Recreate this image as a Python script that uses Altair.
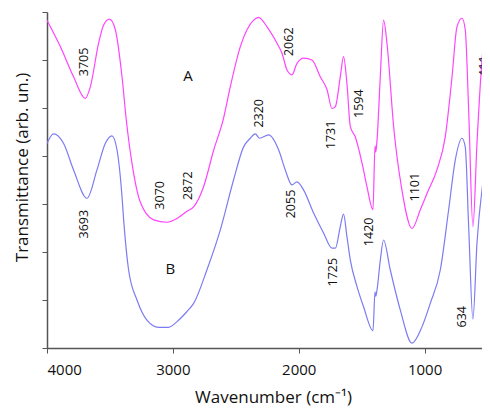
import altair as alt
import pandas as pd

# Curve A (magenta)
wn_a = [4000, 3894, 3789, 3696, 3656, 3590, 3550, 3503, 3457, 3404, 3370, 3325, 3259, 3153,
        3047, 2967, 2888, 2835, 2756, 2676, 2597, 2544, 2464, 2411, 2359, 2319, 2252, 2173,
        2133, 2093, 2054, 2014, 1961, 1895, 1829, 1775, 1736, 1709, 1670, 1644, 1617, 1590,
        1551, 1497, 1458, 1410, 1394, 1388, 1378, 1352, 1326, 1299, 1246, 1180, 1100, 1034,
        981, 902, 836, 782, 743, 703, 677, 650, 616, 584, 544, 504, 438]
t_a = [6.83, 6.28, 5.65, 5.20, 5.44, 6.35, 6.73, 6.85, 6.63, 5.65, 4.75, 3.85, 3.04, 2.67,
       2.62, 2.70, 2.85, 2.94, 3.36, 4.12, 4.79, 5.44, 6.28, 6.63, 6.83, 6.89, 6.69, 6.35,
       6.14, 5.79, 5.69, 5.93, 6.04, 6.00, 5.65, 5.38, 4.99, 5.03, 5.65, 6.07, 5.51, 4.61,
       4.40, 3.85, 3.36, 2.88, 4.21, 4.08, 4.33, 5.65, 6.83, 6.35, 4.61, 3.29, 2.49, 2.88,
       3.22, 3.71, 4.40, 5.65, 6.69, 6.87, 6.63, 4.96, 2.53, 4.26, 6.00, 6.83, 7.04]

# Curve B (blue)
wn_b = [4000, 3948, 3868, 3789, 3682, 3603, 3537, 3484, 3444, 3404, 3391, 3352, 3285, 3206,
        3113, 3034, 2967, 2888, 2835, 2729, 2623, 2518, 2438, 2385, 2345, 2311, 2239, 2160,
        2107, 2054, 2014, 1961, 1882, 1802, 1736, 1709, 1670, 1644, 1617, 1590, 1537, 1485,
        1410, 1394, 1388, 1378, 1352, 1326, 1273, 1193, 1100, 1021, 955, 875, 809, 756,
        703, 677, 650, 616, 584, 531, 478, 422]
t_b = [4.26, 4.46, 4.26, 3.71, 3.12, 3.71, 4.26, 4.42, 4.13, 3.15, 2.67, 1.63, 1.00, 0.58,
       0.43, 0.43, 0.55, 0.76, 0.93, 1.63, 2.46, 3.50, 4.19, 4.37, 4.46, 4.37, 4.44, 4.13,
       3.71, 3.40, 3.46, 3.29, 2.81, 2.39, 2.08, 2.08, 2.53, 2.79, 2.32, 1.83, 1.28, 0.86,
       0.36, 1.17, 1.08, 1.21, 1.83, 2.25, 1.63, 0.79, 0.10, 0.44, 0.93, 1.63, 2.88, 3.92,
       4.37, 4.19, 2.53, 0.60, 2.18, 3.57, 4.40, 4.75]

# Peak annotations (rotated)
peak_text = ["3705", "3070", "2872", "2062", "1731", "1594", "1101", "411",
             "2320", "3693", "2055", "1725", "1420", "634"]
peak_wn = [3706, 3100, 2880, 2080, 1744, 1521, 1073, 530,
           2319, 3706, 2061, 1731, 1439, 706]
peak_t = [5.96, 3.18, 3.38, 6.38, 4.44, 5.09, 3.35, 5.87,
          4.89, 2.58, 3.00, 1.58, 2.42, 0.65]

# Curve names
curve_text = ["A", "B"]
curve_wn = [2880, 3020]
curve_t = [5.67, 1.64]

x_ticks = [4000, 3000, 2000, 1000]
y_ticks = [0, 1, 2, 3, 4, 5, 6, 7]

FONT = "Open Sans"

df_lines = pd.concat([
    pd.DataFrame({"wn": wn_a, "t": t_a, "s": "A"}),
    pd.DataFrame({"wn": wn_b, "t": t_b, "s": "B"}),
])
df_peaks = pd.DataFrame({"wn": peak_wn, "t": peak_t, "label": peak_text})
df_curves = pd.DataFrame({"wn": curve_wn, "t": curve_t, "label": curve_text})

x_scale = alt.Scale(domain=[4000, 544], nice=False, zero=False)
y_scale = alt.Scale(domain=[0, 7], nice=False, zero=False)

x_enc = alt.X("wn:Q", scale=x_scale,
              axis=alt.Axis(values=x_ticks, format="d", title="Wavenumber (cm⁻¹)", grid=False,
                            tickSize=5, labelPadding=9, labelFontSize=15,
                            labelFont=FONT, titleFont=FONT, titleFontSize=17,
                            titleFontWeight="normal", titleX=226, titleY=54,
                            titleBaseline="alphabetic", titleAlign="center",
                            domainColor="#555555", tickColor="#555555",
                            domainWidth=1.5, labelColor="#111111", titleColor="#111111"))
y_enc = alt.Y("t:Q", scale=y_scale,
              axis=alt.Axis(values=y_ticks, labels=False, title="Transmittance (arb. un.)",
                            grid=False, tickSize=5, titleFont=FONT, titleFontSize=17,
                            titleFontWeight="normal", titleX=-25, titleY=155,
                            titleAngle=270, titleBaseline="middle", titleAlign="center",
                            domainColor="#555555", tickColor="#555555",
                            domainWidth=1.5, titleColor="#111111"))

lines = alt.Chart(df_lines).mark_line(strokeWidth=1.2, clip=True, interpolate="monotone").encode(
    x=x_enc, y=y_enc,
    color=alt.Color("s:N", scale=alt.Scale(domain=["A", "B"], range=["#FF44FF", "#7C7CF2"]),
                    legend=None),
)

peaks = alt.Chart(df_peaks).mark_text(angle=270, font=FONT, fontSize=12.5, color="#111111",
                                       align="center", baseline="middle").encode(
    x=alt.X("wn:Q", scale=x_scale), y=alt.Y("t:Q", scale=y_scale), text="label:N")

curves = alt.Chart(df_curves).mark_text(font=FONT, fontSize=15, color="#111111",
                                         align="center", baseline="middle").encode(
    x=alt.X("wn:Q", scale=x_scale), y=alt.Y("t:Q", scale=y_scale), text="label:N")

chart = alt.layer(lines, peaks, curves).properties(
    width=435, height=336,
    autosize=alt.AutoSizeParams(type="none"),
    padding={"left": 39, "top": 4, "right": 0, "bottom": 58},
).configure_view(stroke="transparent")

chart.save("out.html", embed_options={"renderer": "svg", "actions": False})
